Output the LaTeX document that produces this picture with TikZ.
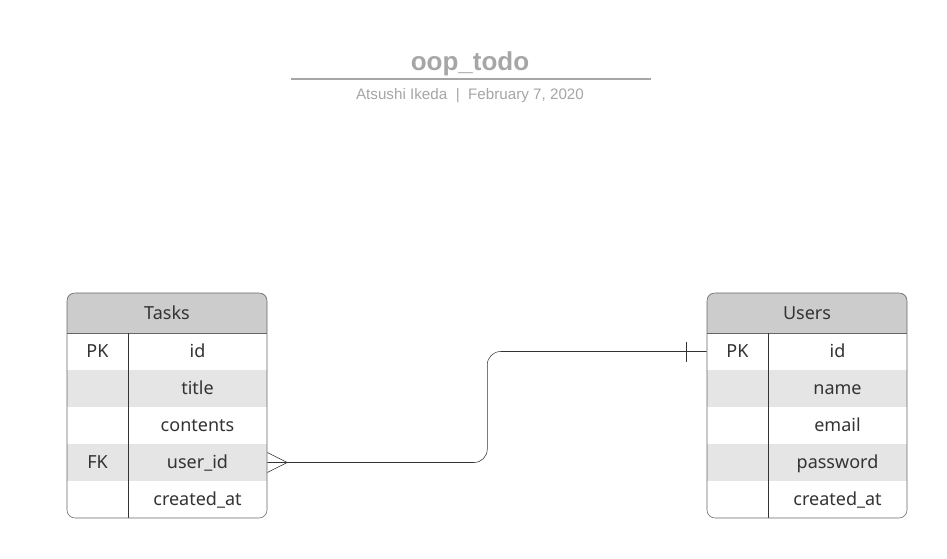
\documentclass[tikz,border=0pt]{standalone}
\usepackage{fontspec}
\setmainfont{Noto Sans}
\newfontfamily\titlefont{Liberation Sans}
\usetikzlibrary{positioning}
\definecolor{bgColor}{HTML}{ffffff}
\definecolor{fgColor}{HTML}{333333}
\definecolor{frameColor}{HTML}{666666}
\definecolor{headColor}{HTML}{cccccc}
\definecolor{stripeColor}{HTML}{e5e5e5}
\definecolor{titleColor}{HTML}{a6a6a6}

\tikzset{
	cellfont/.style={text=fgColor, font=\fontsize{13.5}{15}\selectfont, text height=11pt, text depth=2pt},
	keycell/.style={cellfont, minimum width=45.75pt, minimum height=27.75pt, inner sep=0pt},
	fieldcell/.style={cellfont, minimum width=104.25pt, minimum height=27.75pt, inner sep=0pt},
	headcell/.style={cellfont, minimum width=150pt, minimum height=30pt, inner sep=0pt},
}

\begin{document}
\begin{tikzpicture}[x=0.75pt,y=0.75pt,yscale=-1]
		\useasboundingbox [fill=bgColor] (0,0) rectangle (947,558);

		% Title
		\node (title) at (470,64) [text=titleColor, font=\titlefont\bfseries\fontsize{19.5}{22}\selectfont] {oop\_todo};
		\draw [titleColor, line width=1.2pt] (291,79) -- (651,79);
		\node (author) at (470,95) [text=titleColor, font=\titlefont\fontsize{11.4}{13}\selectfont, text height=8pt, text depth=2pt] {Atsushi Ikeda~~|~~February 7, 2020};

		% Table backgrounds
		\foreach \x in {67,707} {
			\fill [headColor] (\x,333) -- (\x,299) arc (180:270:6) -- (\x+194,293) arc (270:360:6) -- (\x+200,333) -- cycle;
			\fill [stripeColor] (\x,370) rectangle (\x+200,407);
			\fill [stripeColor] (\x,444) rectangle (\x+200,481);
			\draw [frameColor] (\x,333) -- (\x+200,333);
			\draw [fgColor] (\x+61,333) -- (\x+61,518);
			\draw [frameColor, rounded corners=6] (\x,293) rectangle (\x+200,518);
		}

		% Tasks
		\node (tasks) at (167,313) [headcell] {Tasks};
		\node (tpk)  at (97.5,351.5) [keycell] {PK};
		\node (tfk)  at (97.5,462.5) [keycell] {FK};
		\node (tid)  at (197.5,351.5) [fieldcell] {id};
		\node (ttitle) at (197.5,388.5) [fieldcell] {title};
		\node (tcontents) at (197.5,425.5) [fieldcell] {contents};
		\node (tuid) at (197.5,462.5) [fieldcell] {user\_id};
		\node (tcreated) at (197.5,499.5) [fieldcell] {created\_at};

		% Users
		\node (users) at (807,313) [headcell] {Users};
		\node (upk)  at (737.5,351.5) [keycell] {PK};
		\node (uid)  at (837.5,351.5) [fieldcell] {id};
		\node (uname) at (837.5,388.5) [fieldcell] {name};
		\node (uemail) at (837.5,425.5) [fieldcell] {email};
		\node (upass) at (837.5,462.5) [fieldcell] {password};
		\node (ucreated) at (837.5,499.5) [fieldcell] {created\_at};

		% Relation
		\draw [fgColor, rounded corners=10] (tuid.east) -- ++(220,0) |- (upk.west);
		\draw [fgColor] ([yshift=-7.5pt]tuid.east) -- ++(20,10) -- ++(-20,10);
		\draw [fgColor] ([xshift=-15pt,yshift=-7.5pt]upk.west) -- ++(0,20);
	\end{tikzpicture}
\end{document}
